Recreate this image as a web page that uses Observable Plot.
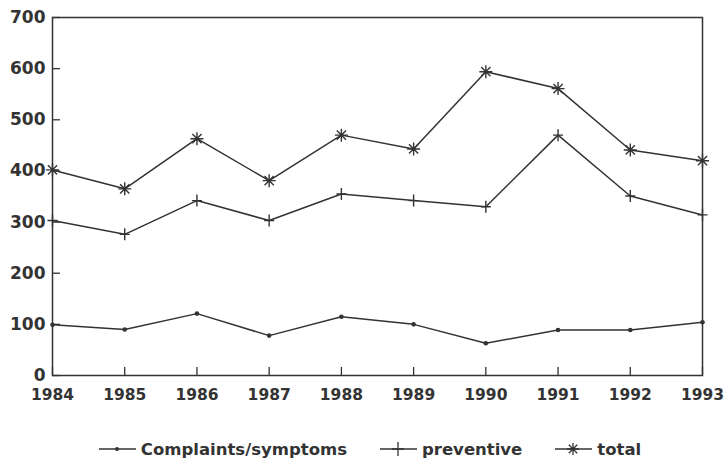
<!DOCTYPE html>
<html>
<head>
<meta charset="utf-8">
<script src="https://cdn.jsdelivr.net/npm/d3@7"></script>
<script src="https://cdn.jsdelivr.net/npm/@observablehq/plot@0.6"></script>
<style>
  html, body { margin: 0; padding: 0; background: #fff; }
  #chart { width: 724px; }
  .legend { display: flex; justify-content: center; align-items: center; margin-top: 34px; padding-left: 16px;
    font-family: "DejaVu Sans", sans-serif; font-weight: bold; font-size: 16.5px; color: #333; height: 20px; }
  .legend .item { display: flex; align-items: center; margin-right: 33px; }
  .legend .item:last-child { margin-right: 0; }
  .legend svg { margin-right: 5px; }
</style>
</head>
<body>
<div id="chart"></div>
<script>
const years = [1984, 1985, 1986, 1987, 1988, 1989, 1990, 1991, 1992, 1993];
const complaints = [99, 90, 121, 78, 115, 100, 63, 89, 89, 104];
const preventive = [303, 276, 342, 303, 355, 342, 330, 470, 351, 314];
const total = [402, 365, 463, 381, 470, 443, 594, 561, 441, 420];
const seriesNames = ["Complaints/symptoms", "preventive", "total"];
const yTicks = [0, 100, 200, 300, 400, 500, 600, 700];

const ink = "#333";

const star8 = {
  draw(ctx, size) {
    const r = Math.sqrt(size / Math.PI);
    const d = r * Math.SQRT1_2;
    ctx.moveTo(0, -r); ctx.lineTo(0, r);
    ctx.moveTo(-r, 0); ctx.lineTo(r, 0);
    ctx.moveTo(-d, -d); ctx.lineTo(d, d);
    ctx.moveTo(-d, d); ctx.lineTo(d, -d);
  }
};
const plusSym = {
  draw(ctx, size) {
    const r = Math.sqrt(size / Math.PI);
    ctx.moveTo(0, -r * 1.2); ctx.lineTo(0, r * 1.2);
    ctx.moveTo(-r, 0); ctx.lineTo(r, 0);
  }
};

const rows = (vals, name) => years.map((y, i) => ({year: y, value: vals[i], series: name}));
const cData = rows(complaints, seriesNames[0]);
const pData = rows(preventive, seriesNames[1]);
const tData = rows(total, seriesNames[2]);

const plot = Plot.plot({
  width: 724,
  height: 405,
  marginLeft: 52,
  marginRight: 22,
  marginTop: 17,
  marginBottom: 30,
  style: {fontFamily: "DejaVu Sans, sans-serif", fontWeight: "bold", fontSize: "17px", color: ink, background: "#fff"},
  x: {domain: [1984, 1993]},
  y: {domain: [0, 700]},
  marks: [
    Plot.frame({stroke: ink, strokeWidth: 1.5}),
    Plot.axisY({ticks: yTicks, tickSize: -8, tickPadding: 15, label: null, stroke: ink, strokeWidth: 1.3, fontSize: 17}),
    Plot.axisX({ticks: years, tickFormat: d => String(d), tickSize: -8, tickPadding: 21, label: null, stroke: ink, strokeWidth: 1.3, fontSize: 15.5}),
    Plot.line(cData, {x: "year", y: "value", stroke: ink, strokeWidth: 1.5}),
    Plot.dot(cData, {x: "year", y: "value", r: 2.3, fill: ink}),
    Plot.line(pData, {x: "year", y: "value", stroke: ink, strokeWidth: 1.5}),
    Plot.dot(pData, {x: "year", y: "value", r: 5, symbol: plusSym, stroke: ink, strokeWidth: 1.4}),
    Plot.line(tData, {x: "year", y: "value", stroke: ink, strokeWidth: 1.5}),
    Plot.dot(tData, {x: "year", y: "value", r: 6.5, symbol: star8, stroke: ink, strokeWidth: 1.4})
  ]
});
document.getElementById("chart").appendChild(plot);

// Legend
const legend = document.createElement("div");
legend.className = "legend";
const markerSvg = [
  `<circle cx="18" cy="9" r="2" fill="${ink}"/>`,
  `<path d="M18,2V16M12,9H24" stroke="${ink}" stroke-width="1.3"/>`,
  `<path d="M18,3V15M12,9H24M13.8,4.8L22.2,13.2M13.8,13.2L22.2,4.8" stroke="${ink}" stroke-width="1.3"/>`
];
seriesNames.forEach((name, i) => {
  const item = document.createElement("div");
  item.className = "item";
  item.innerHTML = `<svg width="37" height="18"><line x1="0" x2="37" y1="9" y2="9" stroke="${ink}" stroke-width="1.5"/>${markerSvg[i]}</svg><span>${name}</span>`;
  legend.appendChild(item);
});
document.getElementById("chart").appendChild(legend);
</script>
</body>
</html>
